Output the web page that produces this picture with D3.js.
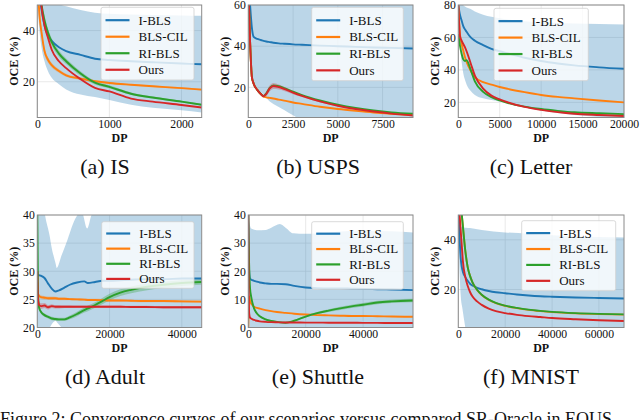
<!DOCTYPE html>
<html><head><meta charset="utf-8">
<script src="https://cdn.jsdelivr.net/npm/d3@7"></script>
<style>
body{margin:0;background:#fff}
svg{display:block}
svg text{font-family:'Liberation Serif','Times New Roman',Tinos,'Nimbus Roman','DejaVu Serif',serif !important;fill:#111}
</style>
</head><body>
<svg id="c" width="640" height="420"></svg>
<script>
// ---------------- data ----------------
const seriesNames = ["I-BLS", "BLS-CIL", "RI-BLS", "Ours"];
const seriesColors = ["#1f77b4", "#ff7f0e", "#2ca02c", "#d62728"];

// (a) IS
const isDP    = [0, 30, 60, 100, 150, 200, 300, 400, 600, 800, 1000, 1300, 1600, 2000, 2280];
const isIBLS  = [62, 54, 48, 42, 38, 36, 33.5, 32, 30.5, 29, 28.5, 28, 27.6, 27.1, 26.8];
const isCIL   = [62, 46, 39, 32, 28.5, 26.5, 24.2, 22.5, 21.2, 20.2, 19.5, 18.8, 18.2, 17.5, 16.9];
const isRI    = [72, 58, 50, 44, 39, 35.5, 31, 28, 23.2, 19.6, 18.0, 15.3, 13.8, 12.2, 11];
const isOurs  = [72, 58, 49, 42, 37, 32.5, 28, 25.3, 21, 17.6, 16.2, 13.4, 12.2, 10.9, 9.9];
const isCILStd = [0, 1.5, 1.5, 1.3, 1.1, 0.9, 0.7, 0.6, 0.5, 0.4, 0.35, 0.3, 0.3, 0.3, 0.3];
const isRIStd  = [0, 2, 2, 1.8, 1.6, 1.4, 1.2, 1.1, 0.9, 0.7, 0.6, 0.5, 0.4, 0.35, 0.3];
const isBandDP = [0, 50, 100, 150, 200, 300, 400, 600, 800, 1000, 1300, 1600, 2000, 2280];
const isBandHi = [75, 65, 58, 54, 51.5, 50.3, 49.5, 48, 47, 46.6, 46.3, 46.1, 45.9, 45.8];
const isBandLo = [50, 35, 28, 24, 21.5, 19, 17, 15, 14, 12.8, 11, 9.8, 8.8, 8];
const isXTicks = [0, 1000, 2000];
const isYTicks = [20, 40];

// (b) USPS
const uspsDP   = [0, 100, 200, 300, 500, 700, 850, 1000, 1200, 1400, 1700, 2000, 2500, 3000, 4000, 5000, 6000, 7000, 8000, 9200];
const uspsIBLS = [75, 60, 49, 44.5, 43.5, 43, 42.6, 42.3, 42, 41.7, 41.4, 41.2, 40.9, 40.7, 40.3, 40, 39.7, 39.4, 39.2, 38.9];
const uspsCIL  = [70, 42, 25, 21.8, 18.8, 16.8, 15.6, 15.2, 14.9, 14.6, 14.1, 13.6, 12.7, 12, 10.6, 9.5, 8.6, 7.8, 7.2, 6.6];
const uspsRI   = [70, 42, 25, 21.8, 18.8, 16.8, 15.8, 17, 19.8, 21, 20.6, 19.7, 17.9, 16.3, 13.7, 11.6, 10, 8.8, 7.9, 7.2];
const uspsOurs = [70, 42, 25, 21.8, 18.8, 16.8, 15.7, 16.8, 19.5, 20.7, 20.2, 19.3, 17.5, 15.9, 13.2, 11.1, 9.5, 8.3, 7.3, 6.4];
const uspsOursStd = [0, 0, 0.5, 0.5, 0.5, 0.6, 0.8, 1.2, 1.5, 1.5, 1.2, 1, 0.8, 0.6, 0.4, 0.3, 0.3, 0.2, 0.2, 0.2];
const uspsBandDP = [0, 100, 200, 300, 500, 700, 850, 1000, 1200, 1400, 1700, 2000, 2500, 3000, 3500, 9200];
const uspsBandHi = [90, 90, 90, 90, 90, 90, 90, 90, 90, 90, 90, 90, 90, 90, 90, 90];
const uspsBandLo = [70, 45, 28, 23, 19.5, 17.5, 16.5, 15, 13.2, 12, 10.5, 9.1, 6.5, 4, 1, -10];
const uspsXTicks = [0, 2500, 5000, 7500];
const uspsYTicks = [20, 40, 60];

// (c) Letter
const letDP   = [0, 200, 400, 600, 800, 1000, 1500, 2000, 3000, 4000, 5000, 6000, 8000, 10000, 12000, 14000, 17000, 20000];
const letIBLS = [80, 74, 70.5, 67, 65, 63.5, 60, 58, 55.3, 53, 51.5, 50.2, 47.5, 45.5, 44, 42.8, 41.6, 40.7];
const letCIL  = [80, 62, 56, 52, 48, 45, 39.5, 35.5, 32.5, 31, 29.5, 28.3, 26.3, 24.6, 23.4, 22.5, 21.2, 20];
const letRI   = [62, 55, 50, 46.5, 45.5, 46, 40, 33, 26.5, 23.3, 21.2, 19.6, 17.4, 15.9, 14.8, 13.9, 13.3, 12.8];
const letOurs = [80, 61, 58, 56, 54, 51.5, 44, 36.5, 28.5, 24.2, 21.8, 20, 17.2, 15.4, 14, 13, 12.2, 11.6];
const letBandDP = letDP;
const letBandHi = [84, 81.5, 80.5, 79.8, 79, 78.5, 77.5, 76, 74, 72.7, 71.8, 71, 70, 69.3, 68.9, 68.6, 68.3, 68];
const letBandLo = [70, 55, 45, 38, 34, 31, 27, 24.5, 22.5, 21.5, 20.5, 19.5, 17, 15, 13.5, 12.3, 11, 9.5];
const letXTicks = [0, 5000, 10000, 15000, 20000];
const letYTicks = [20, 40, 60, 80];

// (d) Adult
const adDP   = [0, 200, 500, 1000, 2000, 3000, 4000, 5000, 6000, 7500, 9000, 11000, 13000, 14000, 16000, 18000, 20000, 23000, 26000, 30000, 35000, 40000, 45500];
const adIBLS = [30, 29.3, 29.3, 29.2, 28.8, 27.8, 26.9, 26.4, 26.6, 27.1, 27.6, 28, 28.2, 27.9, 28.1, 28.3, 28.3, 28.4, 28.5, 28.6, 28.6, 28.7, 28.7];
const adCIL  = [28, 26, 25.6, 25.4, 25.3, 25.2, 25.2, 25.2, 25.1, 25.1, 25.05, 25, 24.95, 24.9, 24.9, 24.85, 24.8, 24.8, 24.75, 24.7, 24.7, 24.65, 24.6];
const adRI   = [40.5, 26, 23.5, 22.8, 22.2, 21.9, 21.6, 21.5, 21.45, 21.45, 21.8, 22.4, 23.1, 23.4, 24, 24.7, 25.4, 26.2, 26.7, 27.2, 27.6, 27.9, 28.1];
const adOurs = [30, 25, 24, 23.8, 23.9, 23.6, 23.8, 23.7, 23.7, 23.7, 23.7, 23.7, 23.7, 23.7, 23.7, 23.7, 23.7, 23.7, 23.65, 23.65, 23.6, 23.6, 23.6];
const adCILStd  = [0, 0.5, 0.4, 0.35, 0.3, 0.3, 0.3, 0.25, 0.25, 0.25, 0.2, 0.2, 0.2, 0.2, 0.2, 0.2, 0.2, 0.2, 0.2, 0.2, 0.2, 0.2, 0.2];
const adRIStd   = [0, 0.4, 0.3, 0.3, 0.3, 0.3, 0.3, 0.3, 0.3, 0.3, 0.35, 0.4, 0.45, 0.5, 0.5, 0.55, 0.6, 0.6, 0.6, 0.6, 0.55, 0.5, 0.5];
const adOursStd = [0, 0.7, 0.6, 0.5, 0.45, 0.4, 0.35, 0.3, 0.3, 0.25, 0.25, 0.2, 0.2, 0.2, 0.2, 0.2, 0.2, 0.2, 0.2, 0.2, 0.2, 0.2, 0.2];
const adBandDP = [0, 1000, 2130, 3500, 3750, 5100, 5370, 6700, 8000, 10900, 12300, 13800, 15000, 16500, 25000, 45500];
const adBandHi = [48, 45, 40, 36, 35, 31.3, 30.6, 32.8, 35, 39.8, 40.5, 37.6, 40, 41, 42, 42];
const adBandLo = [5, 12, 17, 20, 20.3, 21.2, 21, 20, 19, 17, 16, 15, 14, 13, 12, 10];
const adXTicks = [0, 20000, 40000];
const adYTicks = [20, 25, 30, 35, 40];

// (e) Shuttle
const shDP   = [0, 100, 300, 600, 1000, 1500, 2000, 3000, 4000, 6000, 8000, 10000, 13000, 16000, 20000, 24000, 28000, 32000, 36000, 40000, 45000, 50000, 57400];
const shIBLS = [40, 30, 20, 17.5, 17, 16.8, 16.6, 16.3, 16, 15.7, 15.5, 15.5, 15.4, 14.8, 14.2, 14, 13.9, 13.9, 13.8, 13.7, 13.6, 13.5, 13.3];
const shCIL  = [0, 5, 11, 9.5, 8.5, 7.9, 7.4, 7, 6.7, 6.2, 5.8, 5.5, 5.2, 4.9, 4.6, 4.4, 4.3, 4.2, 4.1, 4.1, 4.0, 3.9, 3.8];
const shRI   = [40, 32, 22, 14, 11, 8.5, 6.8, 5, 4, 2.9, 2.3, 2.0, 1.7, 2.4, 3.9, 5.1, 6.0, 6.8, 7.5, 8.1, 8.9, 9.3, 9.6];
const shOurs = [40, 20, 5, 3.5, 3.2, 2.9, 2.7, 2.4, 2.2, 2, 1.9, 1.85, 1.8, 1.8, 1.75, 1.75, 1.7, 1.7, 1.7, 1.65, 1.65, 1.6, 1.6];
const shRIStd = [0, 1, 1, 0.8, 0.6, 0.5, 0.4, 0.3, 0.3, 0.3, 0.3, 0.3, 0.3, 0.3, 0.35, 0.4, 0.5, 0.55, 0.6, 0.6, 0.6, 0.6, 0.6];
const shBandDP = [0, 1000, 3000, 6000, 8000, 11000, 13000, 15700, 20000, 24000, 30000, 40000, 50000, 57400];
const shBandHi = [40, 35.2, 34.6, 34.7, 35.5, 36.8, 35.5, 33.5, 33.3, 33.4, 34, 34.4, 34.2, 33.8];
const shBandLo = [-5, -5, -5, -5, -5, -5, -5, -5, -5, -5, -5, -5, -5, -5];
const shXTicks = [0, 20000, 40000];
const shYTicks = [0, 10, 20, 30, 40];

// (f) MNIST
const mnDP   = [0, 500, 1000, 1500, 2000, 3000, 4000, 5000, 6000, 8000, 10000, 13000, 16000, 20000, 25000, 30000, 35000, 40000, 50000, 60000, 70700];
const mnIBLS = [55, 42, 33, 29, 27, 25, 23.5, 22.3, 21.6, 20.7, 20.1, 19.4, 18.9, 18.5, 18, 17.6, 17.3, 17.1, 16.8, 16.6, 16.4];
const mnCIL  = [70, 62, 55, 50, 45, 35.5, 29, 25.5, 23, 19.8, 17.8, 15.8, 14.5, 13.4, 12.5, 11.8, 11.3, 10.9, 10.4, 10.1, 9.9];
const mnRI   = [70, 62, 55, 50, 45, 35.5, 29, 25.5, 23, 19.9, 17.9, 15.9, 14.6, 13.5, 12.6, 11.9, 11.4, 11.0, 10.5, 10.2, 10.0];
const mnOurs = [58, 51, 44, 37.5, 31, 25, 21.5, 19, 17.3, 15.2, 13.8, 12.3, 11.3, 10.5, 9.8, 9.3, 8.9, 8.5, 8, 7.6, 7.3];
const mnBandDP = [0, 500, 1000, 1800, 2600, 3300, 5000, 10000, 20000, 30000, 40000, 50000, 60000, 70700];
const mnBandHi = [46, 45.8, 45.5, 45.2, 45, 44.9, 44.8, 44, 43, 42.5, 41.8, 41.4, 41.1, 40.9];
const mnBandLo = [40, 28, 18, 12, 7, 3, -5, -5, -5, -5, -5, -5, -5, -5];
const mnXTicks = [0, 20000, 40000, 60000];
const mnYTicks = [20, 40];

const figureCaption = "Figure 2: Convergence curves of our scenarios versus compared SR-Oracle in EOUS";

// ---------------- layout ----------------
const SERIF = "'Liberation Serif','Times New Roman',Tinos,'Nimbus Roman','DejaVu Serif',serif";
const panels = [
  {cap:"(a) IS", dp:isDP, ys:[isIBLS, isCIL, isRI, isOurs], std:[null, isCILStd, isRIStd, null],
   bdp:isBandDP, blo:isBandLo, bhi:isBandHi, xd:[0, 2280], yd:[6, 50], xt:isXTicks, yt:isYTicks,
   box:[37.3, 5, 201.7, 117.5], leg:[101, 7.3, 194, 80], capX:105},
  {cap:"(b) USPS", dp:uspsDP, ys:[uspsIBLS, uspsCIL, uspsRI, uspsOurs], std:[null, null, null, uspsOursStd],
   bdp:uspsBandDP, blo:uspsBandLo, bhi:uspsBandHi, xd:[0, 9200], yd:[5.4, 60], xt:uspsXTicks, yt:uspsYTicks,
   box:[248.3, 5, 413, 117.5], leg:[311.7, 7.3, 403.3, 80.7], capX:318},
  {cap:"(c) Letter", dp:letDP, ys:[letIBLS, letCIL, letRI, letOurs], std:[null, null, null, null],
   bdp:letBandDP, blo:letBandLo, bhi:letBandHi, xd:[0, 20000], yd:[10.7, 80], xt:letXTicks, yt:letYTicks,
   box:[458.3, 5, 624, 117.5], leg:[494, 8.3, 588.3, 80.7], capX:531},
  {cap:"(d) Adult", dp:adDP, ys:[adIBLS, adCIL, adRI, adOurs], std:[null, adCILStd, adRIStd, adOursStd],
   bdp:adBandDP, blo:adBandLo, bhi:adBandHi, xd:[0, 45500], yd:[20, 40], xt:adXTicks, yt:adYTicks,
   box:[37.3, 215, 201.7, 327.5], leg:[101.7, 221.7, 194, 288.3], capX:105},
  {cap:"(e) Shuttle", dp:shDP, ys:[shIBLS, shCIL, shRI, shOurs], std:[null, null, shRIStd, null],
   bdp:shBandDP, blo:shBandLo, bhi:shBandHi, xd:[0, 57400], yd:[0, 40], xt:shXTicks, yt:shYTicks,
   box:[248.3, 215, 413, 327.5], leg:[311.7, 221.7, 403.3, 289.3], capX:318},
  {cap:"(f) MNIST", dp:mnDP, ys:[mnIBLS, mnCIL, mnRI, mnOurs], std:[null, null, null, null],
   bdp:mnBandDP, blo:mnBandLo, bhi:mnBandHi, xd:[0, 70700], yd:[4.7, 50], xt:mnXTicks, yt:mnYTicks,
   box:[458.3, 215, 624, 327.5], leg:[521.7, 220.7, 615.7, 290.7], capX:531}
];

const svg = d3.select("#c").attr("font-family", SERIF);
const defs = svg.append("defs");

panels.forEach((p, pi) => {
  const [L, T, R, B] = p.box;
  const x = d3.scaleLinear().domain(p.xd).range([L, R]);
  const y = d3.scaleLinear().domain(p.yd).range([B, T]);
  const g = svg.append("g");

  defs.append("clipPath").attr("id", "clip" + pi)
    .append("rect").attr("x", L).attr("y", T).attr("width", R - L).attr("height", B - T);

  // grid
  g.append("g").selectAll("line").data(p.xt).join("line")
    .attr("x1", d => x(d)).attr("x2", d => x(d)).attr("y1", T).attr("y2", B)
    .attr("stroke", "#e3e3e3").attr("stroke-width", 0.8);
  g.append("g").selectAll("line").data(p.yt).join("line")
    .attr("x1", L).attr("x2", R).attr("y1", d => y(d)).attr("y2", d => y(d))
    .attr("stroke", "#e3e3e3").attr("stroke-width", 0.8);

  const plot = g.append("g").attr("clip-path", `url(#clip${pi})`);

  // I-BLS std band
  const bandData = p.bdp.map((d, i) => [d, p.blo[i], p.bhi[i]]);
  plot.append("path").datum(bandData)
    .attr("d", d3.area().x(d => x(d[0])).y0(d => y(d[1])).y1(d => y(d[2])).curve(d3.curveMonotoneX))
    .attr("fill", seriesColors[0]).attr("fill-opacity", 0.3);

  // other std bands
  p.std.forEach((s, si) => {
    if (!s) return;
    const dd = p.dp.map((d, i) => [d, p.ys[si][i] - s[i], p.ys[si][i] + s[i]]);
    plot.append("path").datum(dd)
      .attr("d", d3.area().x(d => x(d[0])).y0(d => y(d[1])).y1(d => y(d[2])).curve(d3.curveMonotoneX))
      .attr("fill", seriesColors[si]).attr("fill-opacity", 0.3);
  });

  // lines
  p.ys.forEach((vals, si) => {
    const dd = p.dp.map((d, i) => [d, vals[i]]);
    plot.append("path").datum(dd)
      .attr("d", d3.line().x(d => x(d[0])).y(d => y(d[1])).curve(d3.curveMonotoneX))
      .attr("fill", "none").attr("stroke", seriesColors[si]).attr("stroke-width", 1.9)
      .attr("stroke-linejoin", "round");
  });

  // frame
  g.append("rect").attr("x", L).attr("y", T).attr("width", R - L).attr("height", B - T)
    .attr("fill", "none").attr("stroke", "#8a8a8a").attr("stroke-width", 1);

  // axes
  const ax = g.append("g").attr("transform", `translate(0,${B})`)
    .call(d3.axisBottom(x).tickValues(p.xt).tickSize(0).tickPadding(1.8).tickFormat(d3.format("d")));
  ax.attr("font-family", SERIF).attr("font-size", 11.7);
  ax.select(".domain").remove();
  ax.selectAll("text").attr("fill", "#111");
  const ay = g.append("g").attr("transform", `translate(${L},0)`)
    .call(d3.axisLeft(y).tickValues(p.yt).tickSize(0).tickPadding(2.5).tickFormat(d3.format("d")));
  ay.attr("font-family", SERIF).attr("font-size", 11.7);
  ay.select(".domain").remove();
  ay.selectAll("text").attr("fill", "#111");

  // axis labels
  g.append("text").attr("x", (L + R) / 2).attr("y", B + 24).attr("text-anchor", "middle")
    .attr("font-family", SERIF).attr("font-size", 12).attr("font-weight", "bold").text("DP");
  g.append("text").attr("transform", `translate(${L - 19.5},${(T + B) / 2}) rotate(-90)`)
    .attr("font-family", SERIF).attr("text-anchor", "middle").attr("font-size", 12).attr("font-weight", "bold").text("OCE (%)");

  // caption
  g.append("text").attr("x", p.capX).attr("y", B + 56.5).attr("text-anchor", "middle")
    .attr("font-family", SERIF).attr("font-size", 22).text(p.cap);

  // legend
  const [lx0, ly0, lx1, ly1] = p.leg;
  const lg = g.append("g");
  lg.append("rect").attr("x", lx0).attr("y", ly0).attr("width", lx1 - lx0).attr("height", ly1 - ly0)
    .attr("rx", 2).attr("fill", "#fff").attr("fill-opacity", 0.8).attr("stroke", "#cfcfcf").attr("stroke-width", 0.8);
  const step = (ly1 - ly0) / 4.4;
  seriesNames.forEach((nm, si) => {
    const cy = ly0 + step * (0.78 + si);
    lg.append("line").attr("x1", lx0 + 4.5).attr("x2", lx0 + 28.5).attr("y1", cy).attr("y2", cy)
      .attr("stroke", seriesColors[si]).attr("stroke-width", 2.2);
    lg.append("text").attr("x", lx0 + 37.5).attr("y", cy + 4.4).attr("font-family", SERIF).attr("font-size", 13).text(nm);
  });
});

svg.append("text").attr("x", 0).attr("y", 425).attr("font-family", SERIF).attr("font-size", 18).text(figureCaption);
</script>
</body></html>
